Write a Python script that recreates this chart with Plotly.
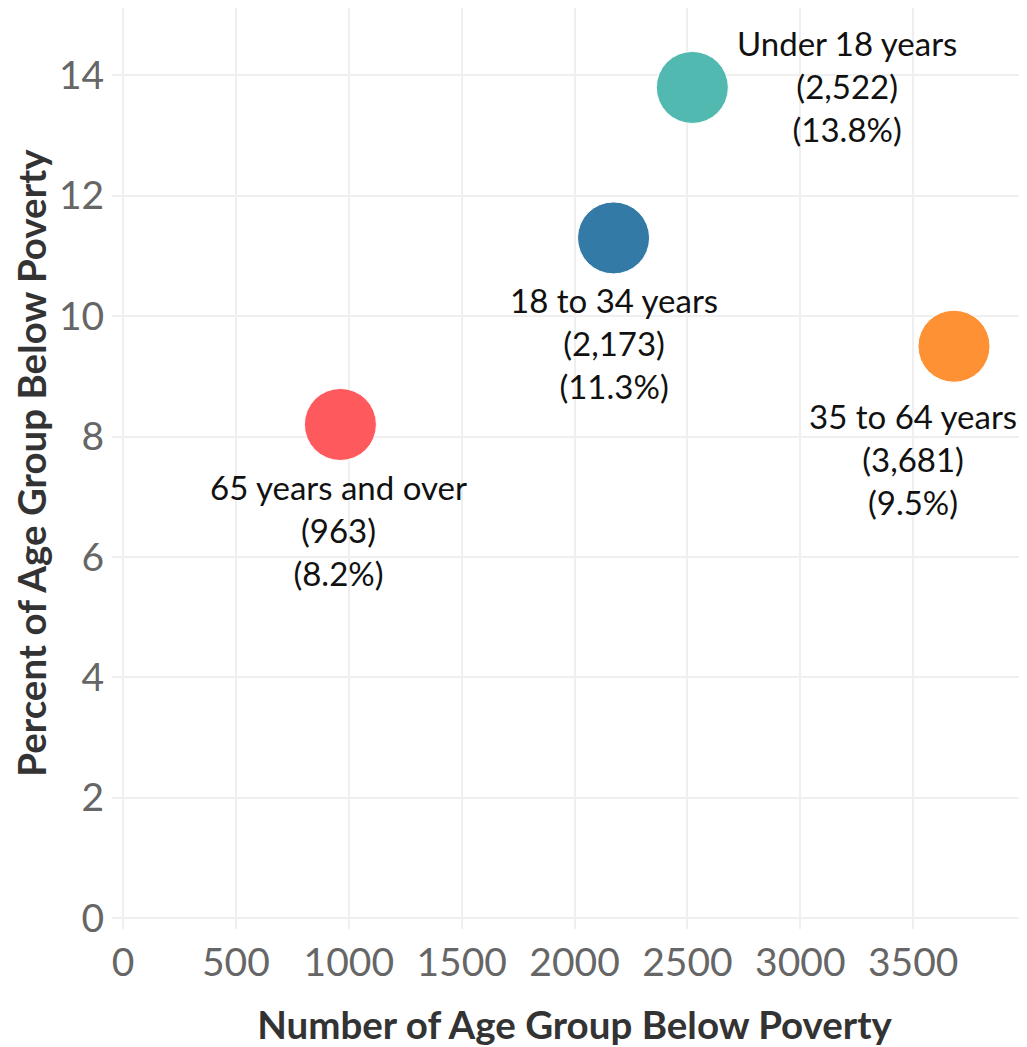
import plotly.graph_objects as go

groups = ["Under 18 years", "18 to 34 years", "35 to 64 years", "65 years and over"]
counts = [2522, 2173, 3681, 963]
percents = [13.8, 11.3, 9.5, 8.2]
colors = ["#51b9b0", "#337aa6", "#fd9134", "#fe5a5e"]
label_shift = [(155, 1), (0, -105), (-41, -113), (-2, -106)]

x_ticks = [0, 500, 1000, 1500, 2000, 2500, 3000, 3500]
y_ticks = [0, 2, 4, 6, 8, 10, 12, 14]

FONT = "Lato"
GRID = "#efefef"

fig = go.Figure()
fig.add_trace(go.Scatter(
    x=counts, y=percents, mode="markers",
    marker=dict(size=72, color=colors, opacity=1, line=dict(width=1, color="white")),
    hoverinfo="skip", showlegend=False,
))

for g, c, p, (dx, dy) in zip(groups, counts, percents, label_shift):
    fig.add_annotation(
        x=c, y=p, xref="x", yref="y",
        text=f"{g}<br>({c:,})<br>({p}%)",
        showarrow=False, xanchor="center", yanchor="middle",
        xshift=dx, yshift=dy, align="center",
        font=dict(family=FONT, size=33, color="#111111"),
    )

fig.update_layout(
    width=1019, height=1039,
    margin=dict(l=115, r=1, t=0, b=129),
    plot_bgcolor="white", paper_bgcolor="white",
    font=dict(family=FONT),
)
fig.update_xaxes(
    range=[0, 4000], tickvals=x_ticks,
    showgrid=True, gridcolor=GRID, gridwidth=1.5,
    zeroline=True, zerolinecolor=GRID, zerolinewidth=1.5,
    ticks="outside", ticklen=10, tickcolor=GRID, tickwidth=1.5,
    tickfont=dict(family=FONT, size=39, color="#666666"),
    title=dict(text="<b>Number of Age Group Below Poverty</b>",
               font=dict(family=FONT, size=38.5, color="#333333"), standoff=30),
    showline=False,
)
fig.update_yaxes(
    range=[0, 15.12], tickvals=y_ticks,
    showgrid=True, gridcolor=GRID, gridwidth=1.5,
    zeroline=True, zerolinecolor=GRID, zerolinewidth=1.5,
    ticks="outside", ticklen=10, tickcolor=GRID, tickwidth=1.5,
    tickfont=dict(family=FONT, size=39, color="#666666"),
    title=dict(text="<b>Percent of Age Group Below Poverty</b>",
               font=dict(family=FONT, size=38.5, color="#333333"), standoff=5),
    showline=False,
)

fig.write_html("out.html")
